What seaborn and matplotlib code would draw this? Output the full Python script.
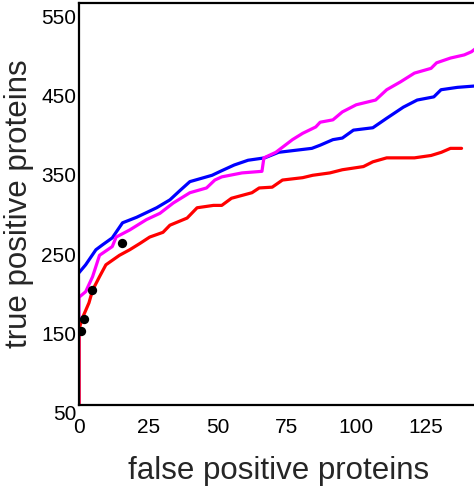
import numpy as np
import pandas as pd
import matplotlib
matplotlib.use("Agg")
import matplotlib.pyplot as plt
import seaborn as sns

# ---- data ----
blue_x = [0, 2.4, 6.1, 8.4, 12.0, 15.7, 20.8, 28, 32.8, 36.5, 40, 45, 48, 51, 56, 61, 67, 72, 84, 87, 91.6, 95, 99, 106, 111, 117, 122, 128, 130.6, 136.5, 143.8, 146]
blue_y = [217, 227, 246, 252, 261, 280, 287, 299, 309, 321, 332, 337, 340, 345, 353, 359, 362, 369, 374, 378, 385, 387, 397, 400, 412, 426, 435, 439, 448, 451, 453, 453]

magenta_x = [0, 0, 2.4, 4.9, 7.4, 12, 13.4, 18.3, 24.3, 29.2, 34, 40, 46, 49, 51.5, 58.8, 66, 66.7, 71, 77, 80.7, 85.4, 87, 91.6, 95, 100, 107, 111, 116, 121, 127, 129, 134, 139, 141.6, 143.8, 146]
magenta_y = [0, 186, 193, 212, 239, 250, 262, 271, 284, 292, 305, 318, 324, 334, 338, 343, 345, 362, 369, 385, 393, 401, 407, 410, 420, 429, 435, 448, 458, 469, 475, 482, 488, 492, 496, 502, 505]

red_x = [0, 0, 1.5, 3.6, 4.9, 7.4, 9.7, 14.6, 18.3, 22, 25.5, 30.3, 32.8, 39, 42.6, 48.5, 51.5, 55, 62.4, 65, 69.7, 73.4, 80.7, 84.3, 90.5, 95, 102.6, 106, 111, 121, 127, 130.7, 134, 138]
red_y = [0, 146, 162, 179, 195, 212, 227, 239, 246, 254, 262, 268, 277, 286, 299, 302, 302, 311, 318, 324, 325, 334, 337, 340, 343, 347, 351, 357, 362, 362, 365, 369, 374, 374]

dot_x = [0.7, 1.8, 4.7, 15.6]
dot_y = [143, 158, 195, 255]

x_ticks = [0, 25, 50, 75, 100, 125]
y_ticks = [50, 150, 250, 350, 450, 550]
x_label = "false positive proteins"
y_label = "true positive proteins"

series_names = ["blue", "magenta", "red"]
series_colors = {"blue": "#0000ff", "magenta": "#ff00ff", "red": "#ff0000"}

df = pd.concat([
    pd.DataFrame({"x": blue_x, "y": blue_y, "s": "blue"}),
    pd.DataFrame({"x": magenta_x, "y": magenta_y, "s": "magenta"}),
    pd.DataFrame({"x": red_x, "y": red_y, "s": "red"}),
], ignore_index=True)
dots = pd.DataFrame({"x": dot_x, "y": dot_y})

sns.set_style("white")
plt.rcParams["font.family"] = ["Liberation Sans", "DejaVu Sans"]

fig = plt.figure(figsize=(4.74, 4.98), dpi=100)
ax = fig.add_axes([79 / 474, 93 / 498, 1 - 79 / 474 + 0.01, (405 - 3) / 498])

sns.lineplot(data=df, x="x", y="y", hue="s", units="s", estimator=None, sort=False,
             palette=series_colors, hue_order=series_names, linewidth=2.3,
             legend=False, ax=ax)
sns.scatterplot(data=dots, x="x", y="y", color="black", s=45, edgecolor="black",
                linewidth=0, zorder=5, legend=False, ax=ax)

ax.set_xlim(0, 144.2)
ax.set_ylim(50, 557.5)
ax.set_xticks(x_ticks)
ax.set_yticks(y_ticks)
ax.set_xticklabels([str(t) for t in x_ticks])
ax.set_yticklabels([str(t) for t in y_ticks])

ax.tick_params(axis="both", direction="in", length=4, width=1.2, colors="black",
               labelsize=15)
ax.tick_params(axis="x", pad=9)
ax.tick_params(axis="y", pad=2)
for lab in ax.get_yticklabels():
    lab.set_verticalalignment("top")

for side in ["left", "bottom", "top"]:
    ax.spines[side].set_visible(True)
    ax.spines[side].set_color("black")
    ax.spines[side].set_linewidth(1.6)
ax.spines["right"].set_visible(False)

ax.set_xlabel(x_label, fontsize=22.5, labelpad=14)
ax.set_ylabel(y_label, fontsize=22.5, labelpad=5)

fig.savefig("out.png", dpi=100)
